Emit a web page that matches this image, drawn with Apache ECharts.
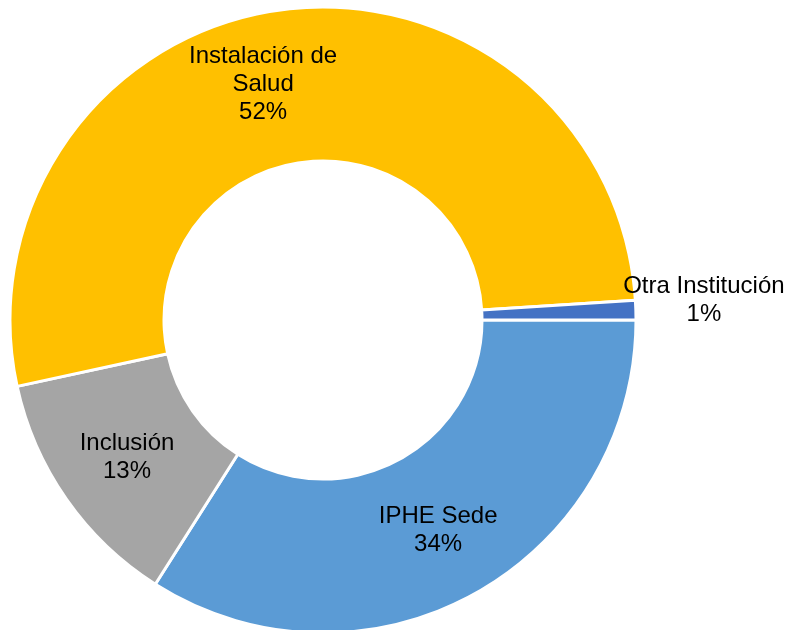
<!DOCTYPE html>
<html>
<head>
<meta charset="utf-8">
<script src="https://cdn.jsdelivr.net/npm/echarts@6/dist/echarts.min.js"></script>
<style>
  html, body { margin: 0; padding: 0; background: #fff; }
  #chart { width: 787px; height: 630px; }
</style>
</head>
<body>
<div id="chart"></div>
<script>
// share of cases by place (percent)
const categories = ['IPHE Sede', 'Inclusión', 'Instalación de Salud', 'Otra Institución'];
const values = [34.0, 12.6, 52.4, 1.0];
const colors = ['#5B9BD5', '#A5A5A5', '#FFC000', '#4472C4'];
// label text as drawn on the chart (line breaks)
const labelNames = ['IPHE Sede', 'Inclusión', 'Instalación de\nSalud', 'Otra Institución'];
const labelOffsets = [[0, 1], [0, 1], [-27, 1], [142, -12]];

const chart = echarts.init(document.getElementById('chart'), null, { renderer: 'canvas' });

const data = categories.map((name, i) => {
  return {
    name: name,
    value: values[i],
    itemStyle: { color: colors[i] },
    label: { offset: labelOffsets[i] },
  };
});

chart.setOption({
  animation: false,
  backgroundColor: '#ffffff',
  series: [
    {
      type: 'pie',
      center: [323, 320],
      radius: [159, 313],
      startAngle: 0,
      clockwise: true,
      percentPrecision: 0,
      avoidLabelOverlap: false,
      itemStyle: { borderColor: '#ffffff', borderWidth: 3 },
      label: {
        show: true,
        position: 'inside',
        color: '#000000',
        fontFamily: 'Liberation Sans, Arial, sans-serif',
        fontSize: 24,
        lineHeight: 28,
        align: 'center',
        formatter: (p) => labelNames[p.dataIndex] + '\n' + p.percent + '%',
      },
      labelLine: { show: false },
      emphasis: { disabled: true },
      data: data,
    },
  ],
});
</script>
</body>
</html>
